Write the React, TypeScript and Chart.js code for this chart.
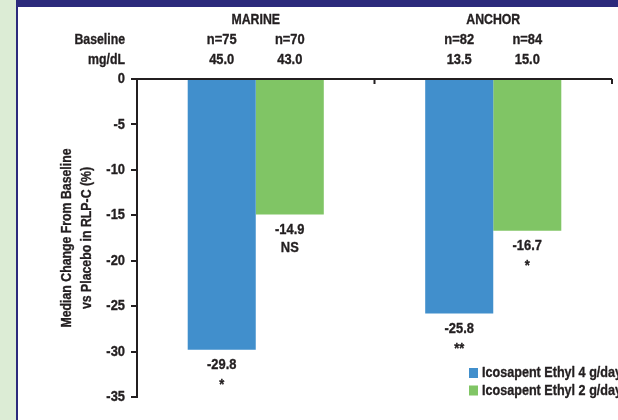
import React, { useEffect, useRef } from "react";
import { Chart, registerables } from "chart.js";

Chart.register(...registerables);

const studies = ["MARINE", "ANCHOR"];
const seriesNames = ["Icosapent Ethyl 4 g/day", "Icosapent Ethyl 2 g/day"];
const dose4g = [-29.8, -25.8];
const dose2g = [-14.9, -16.7];
const dose4gSig = ["*", "**"];
const dose2gSig = ["NS", "*"];
const dose4gN = ["n=75", "n=82"];
const dose2gN = ["n=70", "n=84"];
const dose4gBaseline = ["45.0", "13.5"];
const dose2gBaseline = ["43.0", "15.0"];
const yTicks = [0, -5, -10, -15, -20, -25, -30, -35];

const BLUE = "#418fcc";
const GREEN = "#80c565";
const NAVY = "#2c2a7c";
const PALE = "#dcecd5";
const INK = "#231f20";
const FONT = "bold 15px 'Liberation Sans', Arial, sans-serif";

function txt(ctx: any, s: string, x: number, y: number, align: string, sx: number) {
  ctx.save();
  ctx.translate(x, y);
  ctx.scale(sx, 1);
  ctx.textAlign = align;
  ctx.textBaseline = "middle";
  ctx.lineWidth = 0.35;
  ctx.strokeStyle = INK;
  ctx.lineJoin = "round";
  ctx.fillText(s, 0, 0);
  ctx.strokeText(s, 0, 0);
  ctx.restore();
}

const decor = {
  id: "decor",
  beforeDraw(chart: any) {
    const { ctx, width, height } = chart;
    ctx.save();
    ctx.fillStyle = "#ffffff";
    ctx.fillRect(0, 0, width, height);
    ctx.fillStyle = PALE;
    ctx.fillRect(0, 0, 16, height);
    ctx.fillStyle = NAVY;
    ctx.fillRect(16, 0, 2, height);
    ctx.fillRect(16, 0, width - 16, 7);
    ctx.restore();
  },
  afterDraw(chart: any) {
    const { ctx, chartArea } = chart;
    const x = chart.scales.x;
    const y = chart.scales.y;
    const m0 = chart.getDatasetMeta(0);
    const m1 = chart.getDatasetMeta(1);
    ctx.save();
    const y0 = y.getPixelForValue(0);
    ctx.strokeStyle = INK;
    ctx.lineWidth = 2;
    ctx.beginPath();
    ctx.moveTo(chartArea.left, y0);
    ctx.lineTo(chartArea.right, y0);
    const bounds: number[] = [];
    for (let i = 0; i < studies.length - 1; i++) {
      bounds.push((x.getPixelForValue(i) + x.getPixelForValue(i + 1)) / 2);
    }
    bounds.push(chartArea.right);
    bounds.forEach((bx) => {
      ctx.moveTo(bx, y0);
      ctx.lineTo(bx, y0 + 5);
    });
    ctx.stroke();

    ctx.fillStyle = INK;
    ctx.font = FONT;
    const NUM = 0.86;
    const WORD = 0.82;

    y.ticks.forEach((t: any) => {
      txt(ctx, String(t.value), chartArea.left - 12, y.getPixelForValue(t.value), "right", NUM);
    });

    studies.forEach((s, i) => {
      txt(ctx, s, x.getPixelForValue(i), 20, "center", WORD);
      txt(ctx, dose4gN[i], m0.data[i].x, 40, "center", NUM);
      txt(ctx, dose2gN[i], m1.data[i].x, 40, "center", NUM);
      txt(ctx, dose4gBaseline[i], m0.data[i].x, 60, "center", NUM);
      txt(ctx, dose2gBaseline[i], m1.data[i].x, 60, "center", NUM);
    });
    txt(ctx, "Baseline", chartArea.left - 12, 40, "right", WORD);
    txt(ctx, "mg/dL", chartArea.left - 12, 60, "right", WORD);

    const lab = (meta: any, vals: number[], sig: string[]) => {
      meta.data.forEach((el: any, i: number) => {
        txt(ctx, vals[i].toFixed(1), el.x, el.y + 15, "center", NUM);
        txt(ctx, sig[i], el.x, el.y + (sig[i] === "NS" ? 33 : 35), "center", NUM);
      });
    };
    lab(m0, dose4g, dose4gSig);
    lab(m1, dose2g, dose2gSig);

    ctx.save();
    ctx.translate(77, (chartArea.top + chartArea.bottom) / 2);
    ctx.rotate(-Math.PI / 2);
    txt(ctx, "Median Change From Baseline", 0, -10, "center", WORD);
    txt(ctx, "vs Placebo in RLP-C (%)", 0, 10, "center", WORD);
    ctx.restore();

    const colors = [BLUE, GREEN];
    seriesNames.forEach((n, i) => {
      const cy = 373 + i * 17.5;
      ctx.fillStyle = colors[i];
      ctx.fillRect(469, cy - 5, 9, 10);
      ctx.fillStyle = INK;
      txt(ctx, n, 482, cy, "left", 0.84);
    });
    ctx.restore();
  },
};

export default function App() {
  const ref = useRef<HTMLCanvasElement | null>(null);
  useEffect(() => {
    if (!ref.current) return;
    const chart = new Chart(ref.current, {
      type: "bar",
      data: {
        labels: studies,
        datasets: [
          { label: seriesNames[0], data: dose4g, backgroundColor: BLUE, borderWidth: 0 },
          { label: seriesNames[1], data: dose2g, backgroundColor: GREEN, borderWidth: 0 },
        ],
      },
      options: {
        animation: false,
        responsive: false,
        events: [],
        layout: { padding: { left: 0, top: 79, right: 6, bottom: 23 } },
        datasets: { bar: { categoryPercentage: 0.573, barPercentage: 1.0 } } as any,
        plugins: { legend: { display: false }, tooltip: { enabled: false } },
        scales: {
          x: { display: false, offset: true },
          y: {
            min: -35,
            max: 0,
            afterBuildTicks: (s: any) => {
              s.ticks = yTicks.map((v) => ({ value: v }));
            },
            afterFit: (s: any) => {
              s.width = 137;
            },
            border: { display: true, color: INK, width: 2 },
            grid: { drawOnChartArea: false, drawTicks: true, tickLength: 6, color: INK, lineWidth: 2 },
            ticks: { display: false },
          },
        },
      },
      plugins: [decor],
    });
    return () => chart.destroy();
  }, []);
  return (
    <div style={{ position: "absolute", left: 0, top: 0, width: 618, height: 420 }}>
      <canvas ref={ref} width={618} height={420} />
    </div>
  );
}
